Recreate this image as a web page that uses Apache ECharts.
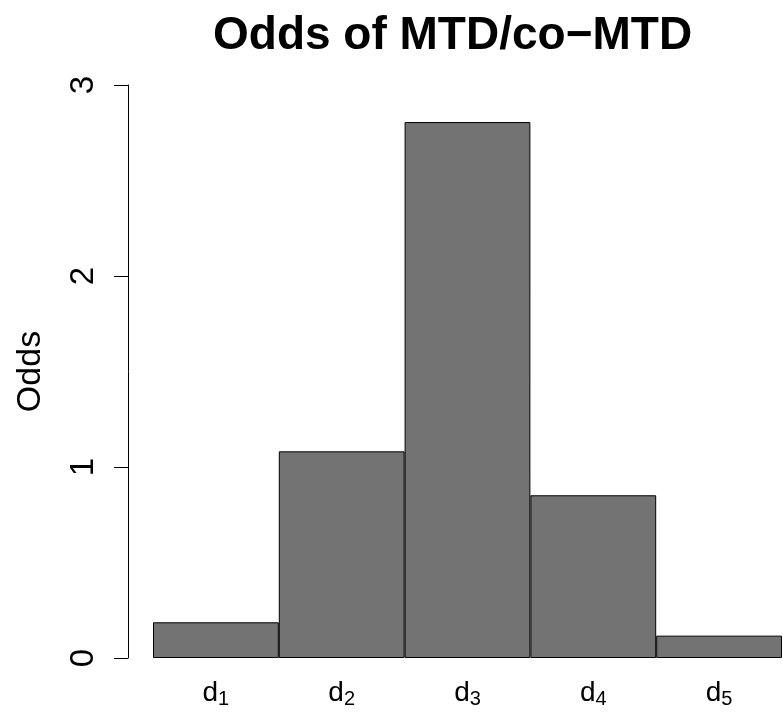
<!DOCTYPE html>
<html>
<head>
<meta charset="utf-8">
<script src="https://cdn.jsdelivr.net/npm/echarts@6/dist/echarts.min.js"></script>
<style>
html,body{margin:0;padding:0;background:#fff;}
#c{width:783px;height:715px;}
</style>
</head>
<body>
<div id="c"></div>
<script>
var categories = ['1', '2', '3', '4', '5'];
var odds = [0.187, 1.082, 2.806, 0.852, 0.117];
var yTicks = [0, 1, 2, 3];

var chart = echarts.init(document.getElementById('c'), null, {renderer: 'canvas'});
var FONT = 'Liberation Sans';
chart.setOption({
  backgroundColor: '#ffffff',
  animation: false,
  title: {
    text: 'Odds of MTD/co\u2212MTD',
    left: 213,
    top: 13,
    padding: 0,
    textStyle: {fontFamily: FONT, fontWeight: 'bold', fontSize: 46, color: '#000'}
  },
  grid: {left: 153, right: 1, top: 85, bottom: 57, containLabel: false},
  xAxis: {
    type: 'category',
    data: categories,
    axisLine: {show: false},
    axisTick: {show: false},
    axisLabel: {
      margin: 21,
      formatter: function (v) { return '{a|d}{b|' + v + '}'; },
      rich: {
        a: {fontFamily: FONT, fontSize: 28, lineHeight: 30, color: '#000', verticalAlign: 'top'},
        b: {fontFamily: FONT, fontSize: 20, lineHeight: 19, color: '#000', verticalAlign: 'bottom'}
      }
    }
  },
  yAxis: {
    type: 'value',
    min: yTicks[0],
    max: yTicks[yTicks.length - 1],
    interval: 1,
    offset: 25,
    name: 'Odds',
    nameLocation: 'middle',
    nameRotate: 90,
    nameGap: 80,
    nameTextStyle: {fontFamily: FONT, fontSize: 34, color: '#000'},
    axisLine: {show: true, lineStyle: {color: '#000', width: 1}},
    axisTick: {show: true, length: 14, lineStyle: {color: '#000', width: 1}},
    splitLine: {show: false},
    axisLabel: {
      rotate: 90,
      margin: 28,
      fontFamily: FONT,
      fontSize: 33,
      color: '#000'
    }
  },
  series: [{
    type: 'bar',
    data: odds,
    barCategoryGap: 0,
    itemStyle: {color: '#737373', borderColor: '#000', borderWidth: 1}
  }]
});
</script>
</body>
</html>
